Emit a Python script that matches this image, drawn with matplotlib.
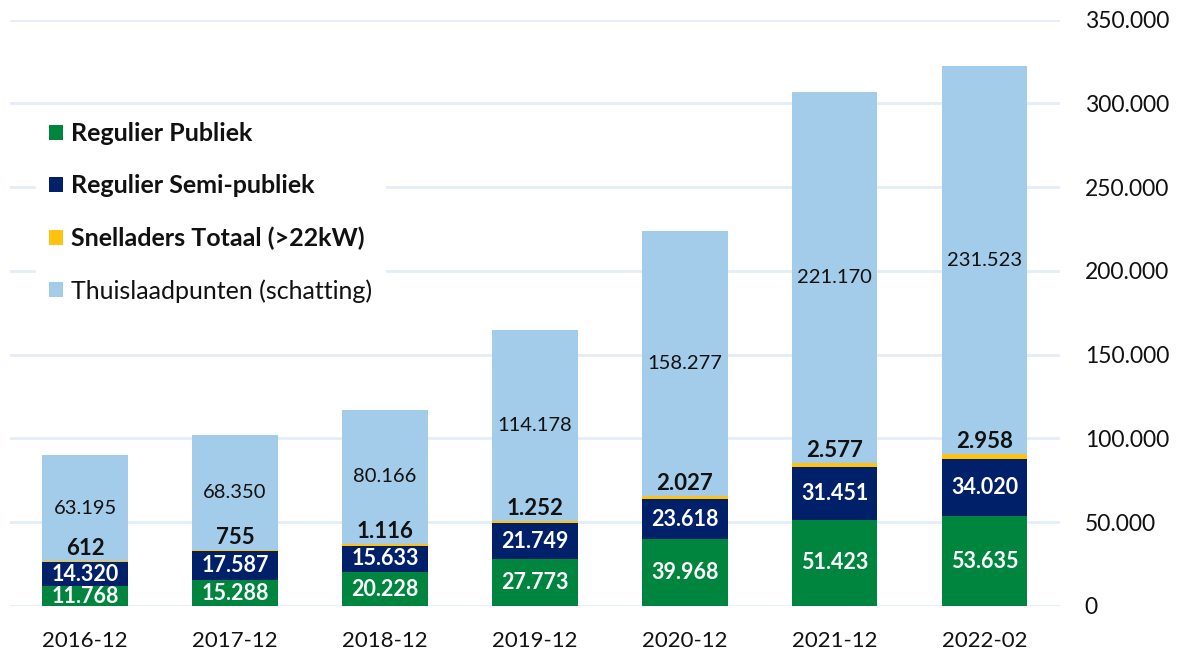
import matplotlib

matplotlib.use("Agg")
import matplotlib.pyplot as plt
from matplotlib.ticker import FuncFormatter

plt.rcParams["font.family"] = ["Lato", "DejaVu Sans"]

periods = ["2016-12", "2017-12", "2018-12", "2019-12", "2020-12", "2021-12", "2022-02"]
regulier_publiek = [11768, 15288, 20228, 27773, 39968, 51423, 53635]
regulier_semi = [14320, 17587, 15633, 21749, 23618, 31451, 34020]
snelladers = [612, 755, 1116, 1252, 2027, 2577, 2958]
thuis = [63195, 68350, 80166, 114178, 158277, 221170, 231523]
series_names = [
    "Regulier Publiek",
    "Regulier Semi-publiek",
    "Snelladers Totaal (>22kW)",
    "Thuislaadpunten (schatting)",
]

_GREEN = "#00853f"
_NAVY = "#01206a"
_YELLOW = "#ffc20e"
_LIGHT = "#a2cce9"
_GRID = "#e3eef8"
_INK = "#111111"


def nl(v):
    return f"{v:,.0f}".replace(",", ".")


fig = plt.figure(figsize=(11.82, 6.49), dpi=100)
ax = fig.add_axes([0.0085, 0.0663, 0.888, 0.9035])

x = list(range(len(periods)))
w = 0.57
bottom = [0] * len(x)
bars = []
for vals, col, name in zip(
    [regulier_publiek, regulier_semi, snelladers, thuis],
    [_GREEN, _NAVY, _YELLOW, _LIGHT],
    series_names,
):
    ax.bar(x, vals, w, bottom=bottom, color=col, label=name, zorder=3)
    bars.append((vals, list(bottom)))
    bottom = [bt + v for bt, v in zip(bottom, vals)]

# value labels
for i in x:
    g, gb = bars[0][0][i], bars[0][1][i]
    ax.text(i, gb + g / 2, nl(g), ha="center", va="center", color="white",
            fontsize=15.5, fontweight="bold", zorder=5, clip_on=True)
    n, nb = bars[1][0][i], bars[1][1][i]
    ax.text(i, nb + n / 2, nl(n), ha="center", va="center", color="white",
            fontsize=15.5, fontweight="bold", zorder=5, clip_on=True)
    s, sb = bars[2][0][i], bars[2][1][i]
    ax.annotate(nl(s), (i, sb + s), xytext=(0, 1.5), textcoords="offset points",
                ha="center", va="bottom", color=_INK, fontsize=16,
                fontweight="bold", zorder=5)
    t, tb = bars[3][0][i], bars[3][1][i]
    ax.text(i, tb + t / 2, nl(t), ha="center", va="center", color=_INK,
            fontsize=14.5, zorder=5)

ax.set_xlim(-0.5, len(x) - 0.5)
ax.set_ylim(0, 350000)
ax.set_yticks(range(0, 350001, 50000))
ax.yaxis.set_major_formatter(FuncFormatter(lambda v, _: nl(v)))
ax.yaxis.tick_right()
ax.set_xticks(x)
ax.set_xticklabels(periods)
ax.tick_params(axis="y", length=0, pad=18, labelsize=16.5, labelcolor=_INK)
ax.tick_params(axis="x", length=0, pad=18, labelsize=16, labelcolor=_INK)
for lbl in ax.get_yticklabels():
    lbl.set_horizontalalignment("left")
for sp in ax.spines.values():
    sp.set_visible(False)
ax.grid(True, axis="y", color=_GRID, linewidth=2, zorder=0)
ax.set_axisbelow(True)

leg = ax.legend(
    loc="upper left",
    bbox_to_anchor=(0.025, 0.846),
    frameon=True,
    facecolor="white",
    edgecolor="white",
    framealpha=1,
    fontsize=18,
    handlelength=0.55,
    handleheight=0.55,
    handletextpad=0.35,
    labelspacing=1.16,
    borderpad=0.5,
    borderaxespad=0,
    fancybox=False,
)
leg.set_zorder(10)
for j, txt in enumerate(leg.get_texts()):
    txt.set_color(_INK)
    if j < 3:
        txt.set_fontweight("bold")

fig.savefig("out.png", dpi=100, facecolor="white")
